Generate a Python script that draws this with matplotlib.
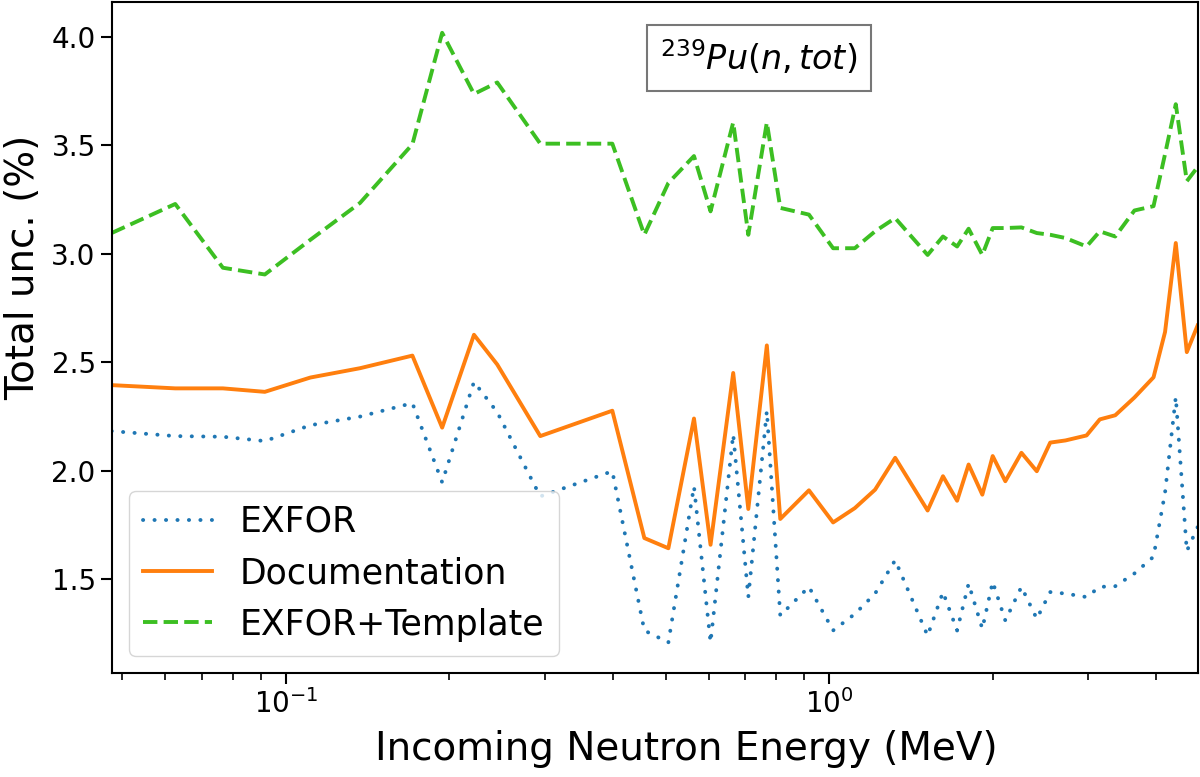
#!/usr/bin/env python3
"""Total uncertainty of 239Pu(n,tot) vs incoming neutron energy."""

import matplotlib

matplotlib.use("Agg")
import matplotlib.pyplot as plt

# incoming neutron energy (MeV)
energy = [
    0.0478, 0.0626, 0.0766, 0.0915, 0.111, 0.137, 0.171, 0.194, 0.222, 0.245,
    0.294, 0.399, 0.457, 0.506, 0.564, 0.605, 0.666, 0.710, 0.768, 0.813,
    0.918, 1.017, 1.115, 1.215, 1.323, 1.518, 1.620, 1.720, 1.806, 1.914,
    2.000, 2.110, 2.259, 2.411, 2.552, 2.723, 2.977, 3.149, 3.362, 3.647,
    3.954, 4.152, 4.345, 4.553, 4.766,
]

# total uncertainty (%)
exfor = [
    2.183, 2.160, 2.157, 2.137, 2.210, 2.250, 2.312, 1.947, 2.410, 2.270,
    1.882, 1.998, 1.264, 1.209, 1.928, 1.209, 2.168, 1.418, 2.276, 1.333,
    1.465, 1.264, 1.340, 1.434, 1.588, 1.240, 1.441, 1.264, 1.480, 1.272,
    1.488, 1.310, 1.465, 1.318, 1.441, 1.434, 1.418, 1.465, 1.468, 1.527,
    1.604, 1.900, 2.340, 1.630, 1.740,
]
documentation = [
    2.395, 2.380, 2.380, 2.364, 2.430, 2.473, 2.531, 2.199, 2.627, 2.490,
    2.160, 2.277, 1.690, 1.643, 2.241, 1.659, 2.451, 1.824, 2.578, 1.778,
    1.910, 1.762, 1.828, 1.913, 2.060, 1.817, 1.975, 1.862, 2.029, 1.890,
    2.068, 1.952, 2.083, 1.998, 2.130, 2.140, 2.163, 2.237, 2.256, 2.338,
    2.431, 2.640, 3.050, 2.547, 2.670,
]
exfor_template = [
    3.096, 3.230, 2.936, 2.905, 3.065, 3.235, 3.505, 4.019, 3.737, 3.790,
    3.508, 3.508, 3.088, 3.327, 3.451, 3.196, 3.606, 3.088, 3.606, 3.212,
    3.181, 3.026, 3.026, 3.104, 3.165, 2.995, 3.080, 3.034, 3.116, 2.995,
    3.119, 3.119, 3.122, 3.096, 3.088, 3.073, 3.034, 3.104, 3.080, 3.200,
    3.220, 3.460, 3.690, 3.335, 3.400,
]


def main() -> None:
    fig, ax = plt.subplots(figsize=(12, 7.77), dpi=100)
    fig.subplots_adjust(left=0.093, right=0.998, bottom=0.134, top=0.997)

    ax.plot(energy, exfor, linestyle=(0, (0.05, 2.9)), color="#1f77b4", lw=2.8,
            dash_capstyle="round", label="EXFOR")
    ax.plot(energy, documentation, "-", color="#ff7f0e", lw=2.8, label="Documentation")
    ax.plot(energy, exfor_template, "--", color="#3cbf22", lw=2.8, label="EXFOR+Template")

    ax.set_xscale("log")
    ax.set_xlim(energy[0], energy[-1])
    ax.set_xlabel("Incoming Neutron Energy (MeV)", fontsize=28)
    ax.set_ylabel("Total unc. (%)", fontsize=28)
    # labels sit a bit off-centre in the original
    ax.xaxis.set_label_coords(0.529, -0.085)
    ax.yaxis.set_label_coords(-0.064, 0.605)
    ax.tick_params(axis="both", which="major", labelsize=20, length=8, width=1.5)
    ax.tick_params(axis="x", which="minor", length=5, width=1.2)
    for spine in ax.spines.values():
        spine.set_linewidth(1.5)

    ax.text(
        0.596, 0.917, r"$^{239}Pu(n, tot)$", transform=ax.transAxes,
        fontsize=24, ha="center", va="center",
        bbox=dict(boxstyle="square,pad=0.4", facecolor="white", edgecolor="#777777", lw=1.5),
    )
    ax.legend(loc="lower left", fontsize=25, handlelength=2.0, borderaxespad=0.5)

    fig.savefig("out.png", dpi=100)


if __name__ == "__main__":
    main()
